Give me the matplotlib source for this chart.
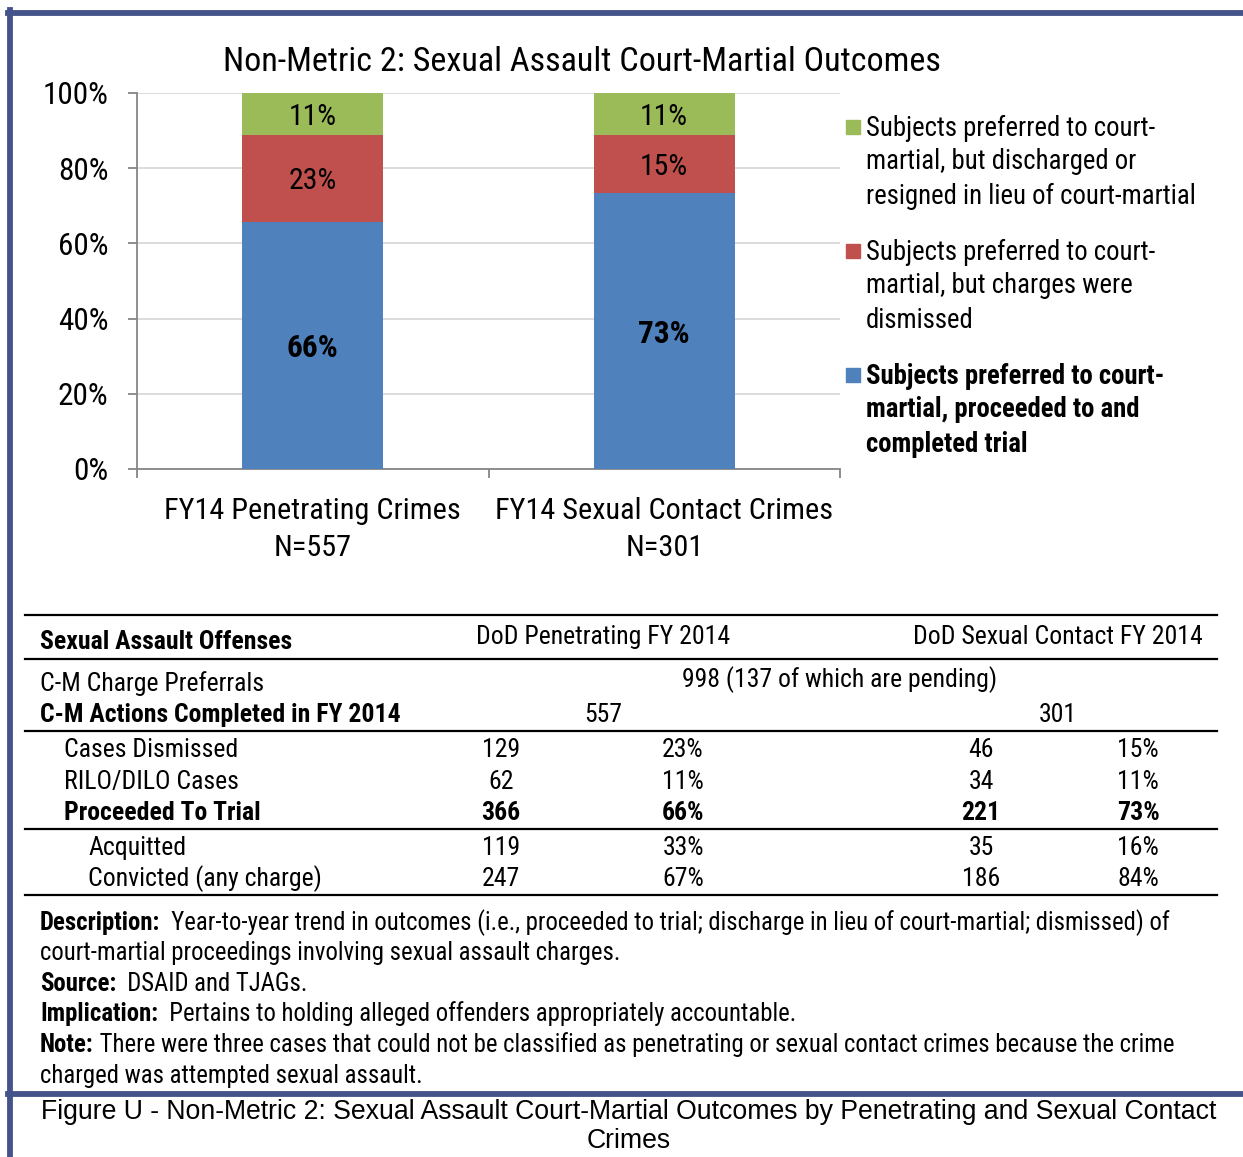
import numpy as np
import matplotlib
matplotlib.use("Agg")
import matplotlib.pyplot as plt
from matplotlib.patches import Rectangle
from matplotlib.lines import Line2D

plt.rcParams['font.family'] = ['Roboto Condensed', 'DejaVu Sans']

# data (counts from the table; bars are 100% stacked)
categories = ["FY14 Penetrating Crimes\nN=557", "FY14 Sexual Contact Crimes\nN=301"]
completed = [557, 301]
dismissed = [129, 46]
rilo_dilo = [62, 34]
trial = [366, 221]
acquitted = [119, 35]
convicted = [247, 186]
trial_pct = [66, 73]
dismissed_pct = [23, 15]
rilo_pct = [11, 11]
acq_pct = [33, 16]
conv_pct = [67, 84]
preferrals = 998
pending = 137

legend_labels = [
    ["Subjects preferred to court-", "martial, but discharged or", "resigned in lieu of court-martial"],
    ["Subjects preferred to court-", "martial, but charges were", "dismissed"],
    ["Subjects preferred to court-", "martial, proceeded to and", "completed trial"],
]

green = '#9BBB59'
red = '#C0504D'
blue = '#4F81BD'
frame = '#44548A'

W, H = 1243, 1157
fig = plt.figure(figsize=(W / 100, H / 100), dpi=100)

def fx(x):
    return x / W

def fy(y):
    return 1 - y / H

# frame lines
fig.add_artist(Line2D([fx(8), fx(1243)], [fy(12.5), fy(12.5)], color=frame, lw=4.2))
fig.add_artist(Line2D([fx(10.5), fx(10.5)], [fy(10), fy(1157)], color=frame, lw=4.2))
fig.add_artist(Line2D([fx(8), fx(1243)], [fy(1093.5), fy(1093.5)], color=frame, lw=4.2))

# chart
ax = fig.add_axes([fx(137), fy(469), fx(840) - fx(137), fy(93) - fy(469)])
tot = np.array(dismissed) + np.array(rilo_dilo) + np.array(trial)
p_trial = np.array(trial) / tot * 100
p_dis = np.array(dismissed) / tot * 100
p_rilo = np.array(rilo_dilo) / tot * 100
x = np.arange(len(categories))
ax.bar(x, p_trial, width=0.4, color=blue, zorder=3)
ax.bar(x, p_dis, width=0.4, bottom=p_trial, color=red, zorder=3)
ax.bar(x, p_rilo, width=0.4, bottom=p_trial + p_dis, color=green, zorder=3)
for i in range(len(x)):
    ax.annotate(f"{trial_pct[i]}%", (x[i], p_trial[i] / 2), xytext=(0, -2), textcoords='offset points',
                ha='center', va='center', fontsize=22.5, fontweight='bold', zorder=4)
    ax.annotate(f"{dismissed_pct[i]}%", (x[i], p_trial[i] + p_dis[i] / 2), xytext=(0, -2), textcoords='offset points',
                ha='center', va='center', fontsize=21.5, zorder=4)
    ax.annotate(f"{rilo_pct[i]}%", (x[i], p_trial[i] + p_dis[i] + p_rilo[i] / 2), xytext=(0, -2), textcoords='offset points',
                ha='center', va='center', fontsize=21.5, zorder=4)

ax.set_xlim(-0.5, 1.5)
ax.set_ylim(0, 100)
ax.set_yticks(np.arange(0, 101, 20))
ax.set_yticklabels([f"{v}%" for v in range(0, 101, 20)], fontsize=22.5)
ax.yaxis.grid(True, color='#D9D9D9', lw=1.3, zorder=0)
ax.set_xticks([-0.5, 0.5, 1.5])
ax.set_xticklabels([])
ax.set_xticks(x, minor=True)
ax.set_xticklabels(categories, minor=True, fontsize=21.8, linespacing=1.42)
ax.tick_params(axis='x', which='minor', length=0, pad=20)
ax.tick_params(axis='x', which='major', length=6.5, color='#868686', width=1.3)
ax.tick_params(axis='y', length=6.5, color='#868686', width=1.3, pad=14)
for s in ['top', 'right']:
    ax.spines[s].set_visible(False)
for s in ['left', 'bottom']:
    ax.spines[s].set_color('#868686')
    ax.spines[s].set_linewidth(1.3)

fig.text(fx(582), fy(62), "Non-Metric 2: Sexual Assault Court-Martial Outcomes", ha='center', va='center', fontsize=24.6)

# legend
leg_colors = [green, red, blue]
leg_y = [127, 251, 375]
for k in range(3):
    fig.add_artist(Rectangle((fx(846), fy(leg_y[k] + 7)), fx(14), 14 / H, color=leg_colors[k], transform=fig.transFigure))
    for j, line in enumerate(legend_labels[k]):
        fig.text(fx(866), fy(leg_y[k] + 1 + 34 * j), line, ha='left', va='center', fontsize=19.3,
                 fontweight='bold' if k == 2 else 'normal')

# table
def hline(y, lw=1.6):
    fig.add_artist(Line2D([fx(25), fx(1217)], [fy(y), fy(y)], color='black', lw=lw))

hline(615)
hline(659)
hline(731)
hline(829)
hline(895)
ts = 18.5
fig.text(fx(40), fy(642), "Sexual Assault Offenses", fontsize=ts, fontweight='bold', va='center')
fig.text(fx(603), fy(637), "DoD Penetrating FY 2014", fontsize=ts, ha='center', va='center')
fig.text(fx(1058), fy(637), "DoD Sexual Contact FY 2014", fontsize=ts, ha='center', va='center')
fig.text(fx(40), fy(684), "C-M Charge Preferrals", fontsize=ts, va='center')
fig.text(fx(840), fy(680), f"{preferrals} ({pending} of which are pending)", fontsize=ts, ha='center', va='center')
fig.text(fx(40), fy(715), "C-M Actions Completed in FY 2014", fontsize=ts, fontweight='bold', va='center')
fig.text(fx(603), fy(715), str(completed[0]), fontsize=ts, ha='center', va='center')
fig.text(fx(1058), fy(715), str(completed[1]), fontsize=ts, ha='center', va='center')

rows = [
    ("Cases Dismissed", 64, 750, dismissed, dismissed_pct, 'normal'),
    ("RILO/DILO Cases", 64, 782, rilo_dilo, rilo_pct, 'normal'),
    ("Proceeded To Trial", 64, 813, trial, trial_pct, 'bold'),
    ("Acquitted", 88, 848, acquitted, acq_pct, 'normal'),
    ("Convicted (any charge)", 88, 879, convicted, conv_pct, 'normal'),
]
for name, xl, yr, cnt, pct, wt in rows:
    fig.text(fx(xl), fy(yr), name, fontsize=ts, fontweight=wt, va='center')
    fig.text(fx(501), fy(yr), str(cnt[0]), fontsize=ts, fontweight=wt, ha='center', va='center')
    fig.text(fx(683), fy(yr), f"{pct[0]}%", fontsize=ts, fontweight=wt, ha='center', va='center')
    fig.text(fx(981), fy(yr), str(cnt[1]), fontsize=ts, fontweight=wt, ha='center', va='center')
    fig.text(fx(1138), fy(yr), f"{pct[1]}%", fontsize=ts, fontweight=wt, ha='center', va='center')

# notes (bold lead-in followed by normal text on the same baseline)
notes = [
    ("Description:", "  Year-to-year trend in outcomes (i.e., proceeded to trial; discharge in lieu of court-martial; dismissed) of", 930),
    ("", "court-martial proceedings involving sexual assault charges.", 960),
    ("Source:", "  DSAID and TJAGs.", 991),
    ("Implication:", "  Pertains to holding alleged offenders appropriately accountable.", 1021),
    ("Note:", " There were three cases that could not be classified as penetrating or sexual contact crimes because the crime", 1052),
    ("", "charged was attempted sexual assault.", 1083),
]
ns = 17.8
for b, t, yy in notes:
    if b:
        lab = fig.text(fx(40), fy(yy), b, fontsize=ns, fontweight='bold', va='baseline')
        fig.add_artist(plt.Annotation(t, xy=(1, fy(yy)), xycoords=(lab, 'figure fraction'),
                                      va='baseline', ha='left', fontsize=ns, annotation_clip=False))
    else:
        fig.text(fx(40), fy(yy), t, fontsize=ns, va='baseline')

fig.text(fx(629), fy(1112), "Figure U - Non-Metric 2: Sexual Assault Court-Martial Outcomes by Penetrating and Sexual Contact",
         ha='center', va='center', fontsize=19.2, family=['Liberation Sans', 'DejaVu Sans'])
fig.text(fx(629), fy(1141), "Crimes", ha='center', va='center', fontsize=19.2, family=['Liberation Sans', 'DejaVu Sans'])

fig.savefig("out.png", dpi=100)
